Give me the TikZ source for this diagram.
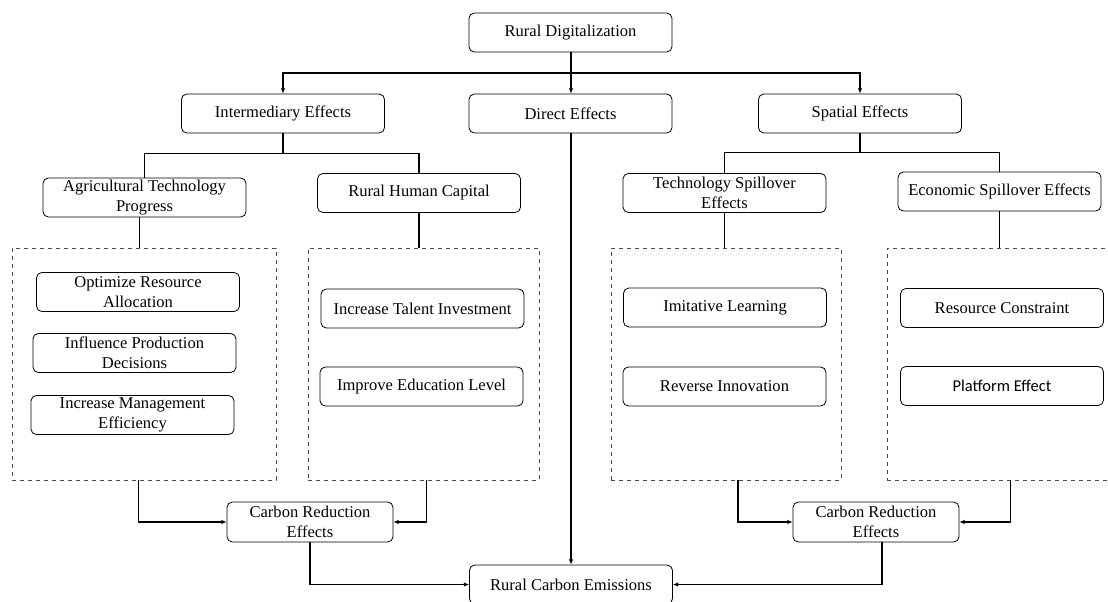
\documentclass[tikz,border=0pt]{standalone}
\usepackage{fontspec}
\setmainfont{Liberation Serif}
\newfontfamily\calibrifont{Carlito}
\usetikzlibrary{arrows.meta}

\begin{document}
\begin{tikzpicture}[x=0.75pt,y=-0.75pt,font=\fontsize{12.4}{15}\selectfont]
\tikzstyle{box}=[draw,rounded corners=4pt,line width=0.6pt,align=center,inner sep=1pt,minimum width=152.25pt,minimum height=29.25pt]
\tikzstyle{small box}=[box,minimum width=124.5pt,minimum height=30pt]
\tikzstyle{dbox}=[draw=black!70,dashed,line width=0.5pt,minimum height=174pt]
\tikzstyle{edge}=[draw,line width=0.9pt]
\tikzstyle{arr}=[draw,line width=0.9pt,-{Latex[length=4pt,width=3.5pt]}]

\useasboundingbox (0,0) rectangle (1108,601);

% top level
\node[box] (digi) at (570.5,32.5) {Rural Digitalization};
\node[box] (inter) at (283,113.5) {Intermediary Effects};
\node[box] (direct) at (570.5,113.5) {Direct Effects};
\node[box] (spatial) at (860,113.5) {Spatial Effects};
\coordinate (trunk) at (571,73);

% channels
\node[box] (agri) at (144.5,197.5) {Agricultural Technology\\Progress};
\node[box] (rhc) at (419,193) {Rural Human Capital};
\node[box] (tech) at (724.5,193) {Technology Spillover\\Effects};
\node[box] (econ) at (999.5,191.5) {Economic Spillover Effects};

% dashed groups
\node[dbox,minimum width=198pt] (dash1) at (144,364) {};
\node[dbox,minimum width=173.25pt] (dash2) at (423.5,364) {};
\node[dbox,minimum width=172.5pt] (dash3) at (726,364) {};
\node[dbox,minimum width=174.75pt] (dash4) at (1003.5,364) {};

\node[box] (opt) at (138,292) {Optimize Resource\\Allocation};
\node[box] (infl) at (134.5,353) {Influence Production\\Decisions};
\node[box] (mgmt) at (132.5,415) {Increase Management\\Efficiency};
\node[box] (talent) at (422.5,308.5) {Increase Talent Investment};
\node[box] (edu) at (421.5,386.5) {Improve Education Level};
\node[box] (imit) at (725,307.5) {Imitative Learning};
\node[box] (rev) at (724.5,386.5) {Reverse Innovation};
\node[box] (resc) at (1002,308) {Resource Constraint};
\node[box,font=\calibrifont\fontsize{12.4}{15}\selectfont] (plat) at (1002,386) {Platform Effect};

% outcomes
\node[small box] (carb1) at (310,522) {Carbon Reduction\\Effects};
\node[small box] (carb2) at (876,522) {Carbon Reduction\\Effects};
\node[box] (emis) at (571,584.5) {Rural Carbon Emissions};

% connectors
\path[edge] (digi.south -| trunk) -- (trunk);
\path[arr] (trunk) -| (inter.north);
\path[arr] (trunk) -| (spatial.north);
\path[arr] (trunk) -- (direct.north -| trunk);
\path[edge] (inter.south) -- ++(0,20) -| (agri.north);
\path[edge] (inter.south) ++(0,20) -| (rhc.north);
\path[edge] (spatial.south) -- ++(0,19) -| (tech.north);
\path[edge] (spatial.south) ++(0,19) -| (econ.north);
\path[edge] ([xshift=-4pt]agri.south) -- ([xshift=-4pt]agri.south |- dash1.north);
\path[edge] (rhc.south) -- (rhc.south |- dash2.north);
\path[edge] (tech.south) -- (tech.south |- dash3.north);
\path[edge] (econ.south) -- (econ.south |- dash4.north);
\path[arr] ([xshift=-4pt]dash1.south) |- (carb1.west);
\path[arr] ([xshift=2.5pt]dash2.south) |- (carb1.east);
\path[arr] ([xshift=9pt]dash3.south) |- (carb2.west);
\path[arr] ([xshift=5.5pt]dash4.south) |- (carb2.east);
\path[arr] (carb1.south) |- (emis.west);
\path[arr] ([xshift=4.5pt]carb2.south) |- (emis.east);
\path[arr] (direct.south -| trunk) -- (emis.north -| trunk);
\end{tikzpicture}
\end{document}
